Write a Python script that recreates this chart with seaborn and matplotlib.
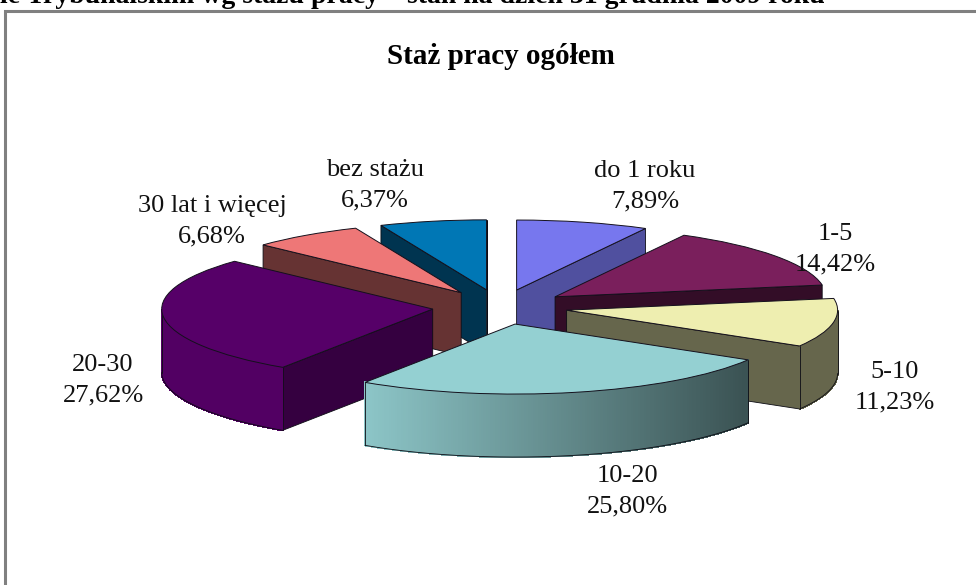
import matplotlib
matplotlib.use('Agg')
import matplotlib.pyplot as plt
from matplotlib.colors import to_rgb
from matplotlib.patches import Polygon
from matplotlib.lines import Line2D
from matplotlib.transforms import Affine2D
import numpy as np
import seaborn as sns

# Data
categories = ['do 1 roku', '1-5', '5-10', '10-20', '20-30', '30 lat i więcej', 'bez stażu']
shares = [7.89, 14.42, 11.23, 25.80, 27.62, 6.68, 6.37]
page_heading = 'le Trybunalskim wg stażu pracy – stan na dzień 31 grudnia 2009 roku'
chart_title = 'Staż pracy ogółem'

# Colours etc
top_colours = ['#7777ee', '#7a1f5c', '#eeeeb0', '#94d0d2', '#560068', '#ee7777', '#0077b5']
wall_shade = [0.67, 0.42, 0.43, 0.43, 0.62, 0.43, 0.44]
draw_order = [6, 0, 5, 1, 4, 2, 3]
label_pos = [(645, 186), (835, 249), (895, 387), (627, 491), (103, 380), (212, 221), (375, 185)]

W, H = 976, 585
# pixels of the squashed pie
RX, RY = 271, 70
CX, CY = 500, 307
DEPTH = 63 / RY
EXPLODE = 0.25

sns.set_theme(style='white')
plt.rcParams['font.family'] = ['Liberation Serif', 'DejaVu Serif']
palette = sns.color_palette(top_colours)

fig, ax = plt.subplots(figsize=(W / 100, H / 100), dpi=100)
ax.set_position([0, 0, 1, 1])

wedges, _ = ax.pie(
    shares, colors=palette, startangle=90, counterclock=False, radius=1,
    explode=[EXPLODE] * len(shares),
    wedgeprops={'edgecolor': '#14101c', 'linewidth': 0.7},
)
ax.set_aspect('auto')
ax.set_xlim(-CX / RX, (W - CX) / RX)
ax.set_ylim(-(H - CY) / RY, CY / RY)
ax.axis('off')


def shade(colour, k):
    return tuple(c * k for c in to_rgb(colour))


def rim_shade(x, i):
    # only the big front slice really runs from light to dark
    if i == 3:
        return 0.95 - 0.55 * np.clip((x + 0.5) / 1.4, 0, 1)
    if i == 2:
        return 0.43
    return 0.95


def draw_wall(pts, colour, z):
    ax.add_patch(Polygon(pts, closed=True, fc=colour, ec='#0c0c14', lw=0.6, zorder=z))


for rank, i in enumerate(draw_order):
    wedge = wedges[i]
    z = 10 + rank * 3
    wedge.set_zorder(z + 2)
    cx, cy = wedge.center
    t1, t2 = wedge.theta1, wedge.theta2
    wall = shade(top_colours[i], wall_shade[i])

    # flat cut faces that look towards us
    for t, visible in ((t1, np.cos(np.radians(t1)) > 0), (t2, np.cos(np.radians(t2)) < -1e-9)):
        if visible:
            px, py = cx + np.cos(np.radians(t)), cy + np.sin(np.radians(t))
            draw_wall([(cx, cy), (px, py), (px, py - DEPTH), (cx, cy - DEPTH)], wall, z)

    # outer rim, only the front half of the circle shows
    angles = np.linspace(t1, t2, int(t2 - t1) * 2 + 2)
    angles = angles[np.sin(np.radians(angles)) <= 0]
    if len(angles) > 1:
        xs = cx + np.cos(np.radians(angles))
        ys = cy + np.sin(np.radians(angles))
        for a in range(len(angles) - 1):
            strip = [(xs[a], ys[a]), (xs[a + 1], ys[a + 1]),
                     (xs[a + 1], ys[a + 1] - DEPTH), (xs[a], ys[a] - DEPTH)]
            col = shade(top_colours[i], rim_shade(xs[a], i))
            ax.add_patch(Polygon(strip, closed=True, fc=col, ec=col, lw=0.8,
                                 antialiased=False, zorder=z + 1))
        ax.plot(xs, ys - DEPTH, color='#0c0c14', lw=0.6, zorder=z + 1)
        for e in (0, -1):
            ax.plot([xs[e], xs[e]], [ys[e], ys[e] - DEPTH], color='#0c0c14', lw=0.6, zorder=z + 1)

# fixed things are placed in picture pixels
to_px = Affine2D().scale(1 / W, -1 / H).translate(0, 1) + fig.transFigure

fig.add_artist(Line2D([5, 5, W], [H, 11, 11], transform=to_px, color='#808080', lw=2.2,
                      solid_joinstyle='miter'))

fig.text(0, 3, page_heading, transform=to_px, fontsize=20, fontweight='bold',
         ha='left', va='baseline', color='black')
fig.text(501, 56, chart_title, transform=to_px, fontsize=21, fontweight='bold',
         ha='center', va='center', color='black')

for name, value, (x, y) in zip(categories, shares, label_pos):
    txt = f'{name}\n{value:.2f}'.replace('.', ',') + '%'
    fig.text(x, y, txt, transform=to_px, fontsize=19, ha='center', va='center',
             linespacing=1.5, color='#111111', zorder=50)

plt.savefig('out.png', dpi=100)
